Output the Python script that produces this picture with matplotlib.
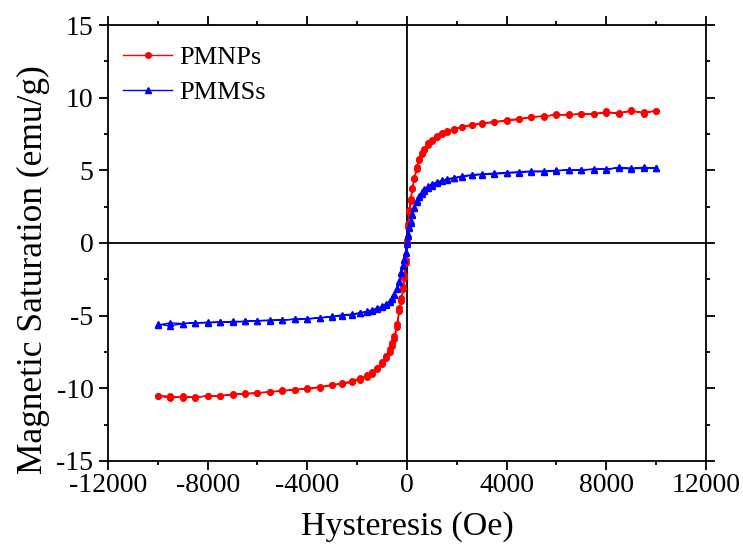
import matplotlib.pyplot as plt
from matplotlib.ticker import MultipleLocator

# field values of one sweep (Oe), from +10000 down to -10000
field = [10000, 9500, 9000, 8500, 8000, 7500, 7000, 6500, 6000, 5500, 5000,
         4500, 4000, 3500, 3000, 2600, 2200, 1900, 1600, 1400, 1200, 1000,
         850, 700, 600, 500, 400, 300, 220, 150, 100, 50, 0,
         -50, -100, -150, -220, -300, -400, -500, -600, -700, -850, -1000,
         -1200, -1400, -1600, -1900, -2200, -2600, -3000, -3500, -4000,
         -4500, -5000, -5500, -6000, -6500, -7000, -7500, -8000, -8500,
         -9000, -9500, -10000]

# PMNPs, descending and ascending branch (emu/g)
pmnp_down = [9.10, 9.00, 9.05, 8.95, 8.95, 8.90, 8.85, 8.85, 8.80, 8.75, 8.65,
             8.55, 8.45, 8.35, 8.25, 8.15, 8.00, 7.85, 7.70, 7.55, 7.35, 7.10,
             6.85, 6.50, 6.20, 5.80, 5.20, 4.50, 3.80, 3.00, 2.30, 1.30, 0.20,
             -1.20, -2.20, -3.00, -3.80, -4.50, -5.60, -6.40, -6.90, -7.30,
             -7.80, -8.20, -8.60, -8.90, -9.10, -9.30, -9.50, -9.65, -9.75,
             -9.90, -10.00, -10.10, -10.15, -10.25, -10.30, -10.35, -10.45,
             -10.50, -10.55, -10.60, -10.65, -10.55, -10.50]
pmnp_up = [9.10, 8.90, 9.15, 8.90, 9.05, 8.85, 8.90, 8.80, 8.85, 8.70, 8.70,
           8.50, 8.40, 8.30, 8.20, 8.10, 7.95, 7.80, 7.65, 7.50, 7.30, 7.00,
           6.75, 6.40, 6.10, 5.70, 5.10, 4.40, 3.70, 2.90, 2.10, 1.10, 0.00,
           -1.40, -2.40, -3.20, -4.00, -4.70, -5.80, -6.60, -7.10, -7.50,
           -7.95, -8.35, -8.70, -9.00, -9.20, -9.40, -9.60, -9.70, -9.80,
           -9.95, -10.05, -10.10, -10.20, -10.25, -10.35, -10.40, -10.40,
           -10.55, -10.50, -10.65, -10.55, -10.70, -10.50]

# PMMSs, descending and ascending branch (emu/g)
pmms_down = [5.15, 5.15, 5.10, 5.15, 5.10, 5.05, 5.05, 5.00, 5.00, 4.95, 4.95,
             4.90, 4.85, 4.80, 4.75, 4.70, 4.60, 4.50, 4.40, 4.30, 4.20, 4.05,
             3.90, 3.70, 3.50, 3.25, 2.95, 2.50, 2.00, 1.50, 1.10, 0.60, 0.05,
             -0.60, -1.10, -1.50, -2.00, -2.60, -3.10, -3.50, -3.80, -4.00,
             -4.20, -4.35, -4.50, -4.60, -4.70, -4.80, -4.90, -4.95, -5.05,
             -5.15, -5.20, -5.25, -5.30, -5.30, -5.35, -5.40, -5.40, -5.45,
             -5.45, -5.50, -5.55, -5.50, -5.65]
pmms_up = [5.15, 5.20, 5.15, 5.20, 5.05, 5.10, 5.00, 5.05, 4.95, 4.90, 4.90,
           4.85, 4.80, 4.75, 4.70, 4.65, 4.55, 4.45, 4.35, 4.25, 4.10, 3.95,
           3.80, 3.60, 3.40, 3.15, 2.85, 2.40, 1.90, 1.40, 1.00, 0.50, -0.05,
           -0.70, -1.20, -1.60, -2.10, -2.70, -3.20, -3.60, -3.85, -4.05,
           -4.25, -4.40, -4.55, -4.65, -4.75, -4.85, -4.95, -5.00, -5.10,
           -5.15, -5.25, -5.25, -5.30, -5.35, -5.35, -5.40, -5.45, -5.45,
           -5.50, -5.50, -5.55, -5.70, -5.60]

plt.rcParams['font.family'] = ['Liberation Serif', 'DejaVu Serif']
plt.rcParams['axes.unicode_minus'] = False

fig = plt.figure(figsize=(7.43, 5.56), dpi=100)
ax = fig.add_axes([0.1454, 0.171, 0.8046, 0.784])

# hysteresis loops: down sweep, then back up
loop_h = field + field[::-1]
ax.plot(loop_h, pmnp_down + pmnp_up[::-1], color='#ff0000', lw=1.0,
        marker='o', ms=4, label='PMNPs')
ax.plot(loop_h, pmms_down + pmms_up[::-1], color='#0000ff', lw=1.0,
        marker='^', ms=4, label='PMMSs')

ax.axhline(0, color='black', lw=1.3, zorder=0)
ax.axvline(0, color='black', lw=1.3, zorder=0)

ax.set_xlim(-12000, 12000)
ax.set_ylim(-15, 15)
ax.xaxis.set_major_locator(MultipleLocator(4000))
ax.xaxis.set_minor_locator(MultipleLocator(2000))
ax.yaxis.set_major_locator(MultipleLocator(5))
ax.yaxis.set_minor_locator(MultipleLocator(2.5))
ax.tick_params(which='both', direction='out', top=True, right=True, width=1.3)
ax.tick_params(which='major', length=6.5)
ax.tick_params(which='minor', length=3)
ax.tick_params(axis='x', labelsize=20, pad=2)
ax.tick_params(axis='y', labelsize=20, pad=4)
for s in ax.spines.values():
    s.set_linewidth(1.3)

ax.set_xlabel('Hysteresis (Oe)', fontsize=24.5, labelpad=10)
ax.set_ylabel('Magnetic Saturation (emu/g)', fontsize=25.5)
ax.yaxis.set_label_coords(-0.097, 0.44)

ax.legend(loc='upper left', bbox_to_anchor=(0.025, 0.952), frameon=False,
          fontsize=19, handlelength=1.86, handletextpad=0.27,
          labelspacing=0.44, borderaxespad=0, borderpad=0)

plt.savefig('out.png', dpi=100)
